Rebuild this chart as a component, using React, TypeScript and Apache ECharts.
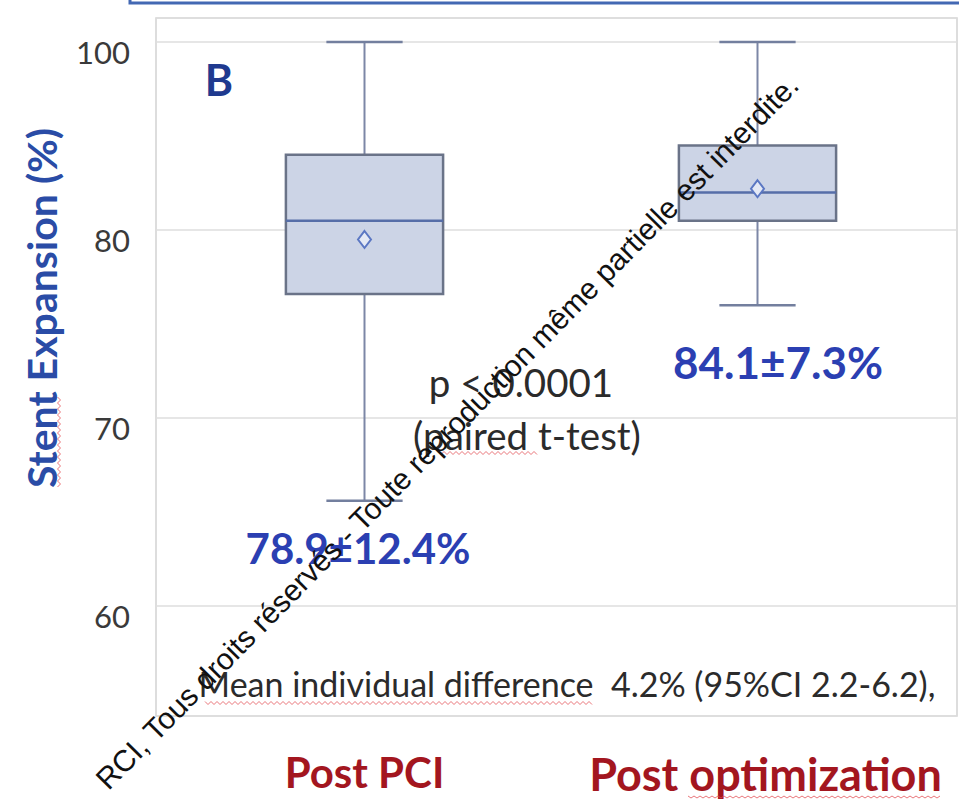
import React, { useEffect, useRef } from 'react';
import * as echarts from 'echarts';

// Categories and box-plot statistics in the axis' plotted units
// (the top gridline, labelled "100", sits one step above 80 on the drawn scale).
const categories = ['Post PCI', 'Post optimization'];
const boxMin = [65.6, 76.0];
const boxQ1 = [76.6, 80.5];
const boxMedian = [80.5, 82.0];
const boxQ3 = [84.0, 84.5];
const boxMax = [90, 90];
const means = [79.5, 82.2];
const statLabels = ['78.9±12.4%', '84.1±7.3%'];
const yTickValues = [60, 70, 80, 90];
const yTickLabels = ['60', '70', '80', '100'];
const yAxisTitle = 'Stent Expansion (%)';
const panelLetter = 'B';
const pValueText = 'p < 0.0001';
const testText = '(paired t-test)';
const diffText = 'Mean individual difference  4.2% (95%CI 2.2-6.2),';
const watermarkText = 'RCI, Tous droits réservés - Toute reproduction même partielle est interdite.';

const Y_MIN = 54.15;
const Y_MAX = 91.28;

// decorative spell-check squiggle
function squiggle(x1: number, y1: number, x2: number, y2: number, amp = 1.5, step = 3) {
  const len = Math.hypot(x2 - x1, y2 - y1);
  const ux = (x2 - x1) / len;
  const uy = (y2 - y1) / len;
  const pts: number[][] = [];
  let k = 0;
  for (let d = 0; d <= len; d += step, k++) {
    const s = k % 2 === 0 ? -amp : amp;
    pts.push([x1 + ux * d - uy * s, y1 + uy * d + ux * s]);
  }
  return {
    type: 'polyline',
    z: 50,
    shape: { points: pts },
    style: { stroke: '#e0484e', lineWidth: 1, fill: 'none', opacity: 0.75 },
  };
}

export default function App() {
  const ref = useRef<HTMLDivElement>(null);

  useEffect(() => {
    const chart = echarts.init(ref.current!, null, { renderer: 'svg' });
    const boxData = categories.map((_, i) => [i, boxMin[i], boxQ1[i], boxMedian[i], boxQ3[i], boxMax[i]]);
    const meanData = means.map((m, i) => [i, m]);

    const catFont = { fontFamily: 'Lato', fontWeight: 'bold', fontSize: 42, color: '#a3161f' };

    const option: any = {
      animation: false,
      backgroundColor: '#ffffff',
      grid: [
        { left: 156, right: 2, top: 18, bottom: 84, show: true, borderColor: '#d2d2d2', borderWidth: 1.5, backgroundColor: 'transparent' },
        { left: 168, right: 5, top: 18, bottom: 84 },
      ],
      xAxis: [
        { gridIndex: 0, type: 'value', show: false, min: 0, max: 1 },
        {
          gridIndex: 1,
          type: 'category',
          data: categories,
          axisLine: { show: false },
          axisTick: { show: false },
          splitLine: { show: false },
          axisLabel: {
            interval: 0,
            hideOverlap: false,
            margin: 35,
            ...catFont,
            formatter: (v: string, i: number) => (i === 0 ? `{a|${v}}` : `{b|${v}}`),
            rich: {
              a: { ...catFont },
              b: { ...catFont, fontSize: 45, padding: [0, 0, 0, 16] },
            },
          },
        },
      ],
      yAxis: [
        {
          gridIndex: 0,
          type: 'value',
          min: Y_MIN,
          max: Y_MAX,
          minInterval: 10,
          maxInterval: 10,
          axisLine: { show: false },
          axisTick: { show: false },
          splitLine: { show: true, lineStyle: { color: '#dedede', width: 1.5 } },
          axisLabel: {
            color: '#3a3a3a',
            fontFamily: 'Lato',
            fontSize: 31,
            margin: 26,
            verticalAlign: 'top',
            lineHeight: 20,
            formatter: (v: number) => {
              const idx = yTickValues.findIndex((t) => Math.abs(t - v) < 1e-6);
              return idx >= 0 ? yTickLabels[idx] : '';
            },
          },
        },
        { gridIndex: 1, type: 'value', min: Y_MIN, max: Y_MAX, show: false },
      ],
      series: [
        {
          type: 'custom',
          xAxisIndex: 1,
          yAxisIndex: 1,
          data: boxData,
          encode: { x: 0, y: [1, 2, 3, 4, 5] },
          z: 3,
          renderItem: (_params: any, api: any) => {
            const c = api.value(0);
            const pMin = api.coord([c, api.value(1)]);
            const pQ1 = api.coord([c, api.value(2)]);
            const pMed = api.coord([c, api.value(3)]);
            const pQ3 = api.coord([c, api.value(4)]);
            const pMax = api.coord([c, api.value(5)]);
            const band = api.size([1, 0])[0];
            const hw = band * 0.2;
            const cw = band * 0.097;
            const x = pMax[0];
            const whisker = { stroke: '#7c87a6', lineWidth: 2 };
            const cap = { stroke: '#737f9e', lineWidth: 2.5 };
            return {
              type: 'group',
              children: [
                { type: 'line', shape: { x1: x, y1: pMax[1], x2: x, y2: pQ3[1] }, style: whisker },
                { type: 'line', shape: { x1: x, y1: pQ1[1], x2: x, y2: pMin[1] }, style: whisker },
                { type: 'line', shape: { x1: x - cw, y1: pMax[1], x2: x + cw, y2: pMax[1] }, style: cap },
                { type: 'line', shape: { x1: x - cw, y1: pMin[1], x2: x + cw, y2: pMin[1] }, style: cap },
                {
                  type: 'rect',
                  shape: { x: x - hw, y: pQ3[1], width: 2 * hw, height: pQ1[1] - pQ3[1] },
                  style: { fill: '#ccd4e6', stroke: '#6a7388', lineWidth: 2.5 },
                },
                { type: 'line', shape: { x1: x - hw, y1: pMed[1], x2: x + hw, y2: pMed[1] }, style: { stroke: '#566ea8', lineWidth: 2.5 } },
              ],
            };
          },
        },
        {
          type: 'scatter',
          xAxisIndex: 1,
          yAxisIndex: 1,
          data: meanData,
          symbol: 'diamond',
          symbolSize: [13, 17],
          z: 4,
          itemStyle: { color: '#e4e9f5', borderColor: '#5b77c3', borderWidth: 2, opacity: 1 },
        },
      ],
      graphic: [
        {
          type: 'rect',
          shape: { x: 130, y: -10, width: 860, height: 13 },
          style: { fill: 'none', stroke: '#4368b3', lineWidth: 3 },
        },
        {
          type: 'text',
          x: 41,
          y: 308,
          rotation: Math.PI / 2,
          style: { text: yAxisTitle, fontFamily: 'Lato', fontWeight: 'bold', fontSize: 41, fill: '#2a4ca6', textAlign: 'center', textVerticalAlign: 'middle' },
        },
        {
          type: 'text',
          x: 219,
          y: 79,
          style: { text: panelLetter, fontFamily: 'Lato', fontWeight: 'bold', fontSize: 43, fill: '#1f3a8f', textAlign: 'center', textVerticalAlign: 'middle' },
        },
        {
          type: 'text',
          x: 358,
          y: 548,
          style: { text: statLabels[0], fontFamily: 'Lato', fontWeight: 'bold', fontSize: 42, fill: '#2b3fb2', textAlign: 'center', textVerticalAlign: 'middle' },
        },
        {
          type: 'text',
          x: 778,
          y: 362,
          style: { text: statLabels[1], fontFamily: 'Lato', fontWeight: 'bold', fontSize: 44, fill: '#2b3fb2', textAlign: 'center', textVerticalAlign: 'middle' },
        },
        {
          type: 'text',
          x: 521,
          y: 382,
          style: { text: pValueText, fontFamily: 'Lato', fontSize: 38.5, fill: '#2b2b2b', textAlign: 'center', textVerticalAlign: 'middle' },
        },
        {
          type: 'text',
          x: 527,
          y: 435,
          style: { text: testText, fontFamily: 'Lato', fontSize: 38.5, fill: '#2b2b2b', textAlign: 'center', textVerticalAlign: 'middle' },
        },
        {
          type: 'text',
          x: 567,
          y: 683,
          style: { text: diffText, fontFamily: 'Lato', fontSize: 34, fill: '#2b2b2b', textAlign: 'center', textVerticalAlign: 'middle' },
        },
        squiggle(59, 487, 59, 395),
        squiggle(205, 703, 592, 703),
        squiggle(438, 453, 537, 453),
        squiggle(688, 797, 940, 797, 1, 3),
        {
          type: 'text',
          x: 447,
          y: 432,
          rotation: 0.794,
          z: 100,
          style: { text: watermarkText, fontFamily: 'Liberation Sans', fontSize: 30, fill: '#111111', textAlign: 'center', textVerticalAlign: 'middle' },
        },
      ],
    };

    chart.setOption(option);
    return () => chart.dispose();
  }, []);

  return <div ref={ref} style={{ position: 'fixed', left: 0, top: 0, width: 959, height: 800 }} />;
}
